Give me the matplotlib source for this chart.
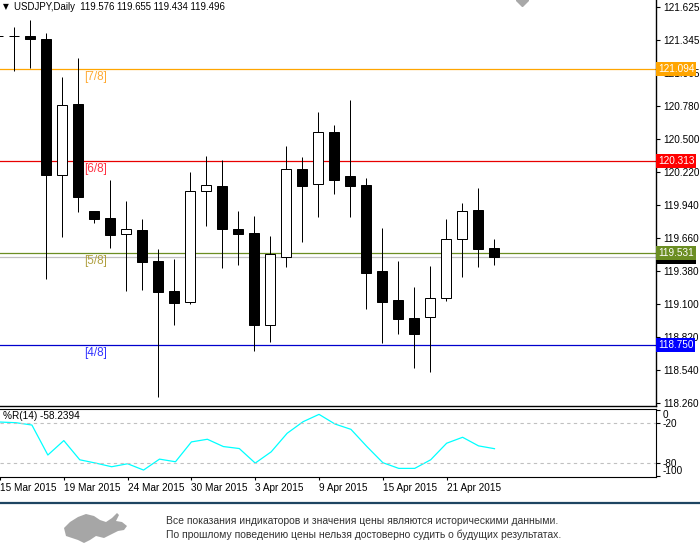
import matplotlib
matplotlib.use("Agg")
import matplotlib.pyplot as plt
from matplotlib.patches import Polygon
from matplotlib.lines import Line2D

plt.rcParams["font.family"] = ["Liberation Sans", "DejaVu Sans"]

symbol = "USDJPY,Daily"
last_ohlc = "119.576 119.655 119.434 119.496"

opens = [121.372, 121.372, 121.376, 121.348, 120.197, 120.798, 119.889, 119.829,
         119.691, 119.725, 119.461, 119.207, 119.118, 120.056, 120.101, 119.736,
         119.702, 118.923, 119.501, 120.243, 120.116, 120.558, 120.186, 120.110,
         119.379, 119.130, 118.977, 118.986, 119.147, 119.648, 119.895, 119.576]
highs = [121.380, 121.455, 121.512, 121.399, 121.025, 121.187, 119.889, 120.152,
         119.974, 119.821, 119.564, 119.481, 120.220, 120.356, 120.322, 119.889,
         119.846, 119.677, 120.441, 120.348, 120.730, 120.620, 120.832, 120.167,
         119.742, 119.464, 119.243, 119.421, 119.821, 119.957, 120.084, 119.655]
lows = [121.360, 121.081, 121.107, 119.309, 119.665, 119.883, 119.790, 119.577,
        119.212, 119.220, 118.311, 118.923, 119.099, 119.764, 119.407, 119.433,
        118.702, 118.778, 119.416, 119.628, 119.840, 120.036, 119.840, 119.059,
        118.770, 118.844, 118.557, 118.523, 119.127, 119.331, 119.416, 119.434]
closes = [121.376, 121.378, 121.348, 120.192, 120.787, 120.010, 119.824, 119.688,
          119.733, 119.458, 119.203, 119.110, 120.056, 120.107, 119.738, 119.696,
          118.923, 119.524, 120.243, 120.104, 120.558, 120.155, 120.104, 119.365,
          119.118, 118.974, 118.846, 119.147, 119.648, 119.886, 119.569, 119.496]

wpr_values = [-18, -19, -22.5, -67.8, -46, -75, -80, -85.5, -81, -90.5, -74, -78,
              -48, -44, -55, -58, -80, -63, -35, -17.5, -6.4, -21, -29, -55,
              -79.4, -88, -88, -75, -50, -41, -54, -58.2394]

date_positions = [0, 4, 8, 12, 16, 20, 24, 28]
date_labels = ["15 Mar 2015", "19 Mar 2015", "24 Mar 2015", "30 Mar 2015",
               "3 Apr 2015", "9 Apr 2015", "15 Apr 2015", "21 Apr 2015"]

price_ticks = [121.625, 121.345, 121.065, 120.780, 120.500, 120.220, 119.940,
               119.660, 119.380, 119.100, 118.820, 118.540, 118.260]

level_values = [121.094, 120.313, 119.531, 118.750]
level_names = ["[7/8]", "[6/8]", "[5/8]", "[4/8]"]
level_colors = ["#FFA500", "#E80000", "#6B8E23", "#0000CD"]
level_text_colors = ["#FFAA33", "#FF3344", "#B0A040", "#3333FF"]
level_box_colors = ["#FFA500", "#FF0000", "#6B8E23", "#0000FF"]
bid_price = 119.496

wpr_levels = [-20, -80]
wpr_ticks = [0, -20, -80, -100]

disclaimer = ["Все показания индикаторов и значения цены являются историческими данными.",
              "По прошлому поведению цены нельзя достоверно судить о будущих результатах."]


def main():
    W, H = 700, 552
    fig = plt.figure(figsize=(7, 5.52), dpi=100)
    ax = fig.add_axes([0, 1 - 406 / H, 656 / W, 406 / H])
    ax2 = fig.add_axes([0, 1 - 477 / H, 656 / W, 68 / H])

    xs = list(range(len(opens)))
    px = 0.72

    # candles
    ax.vlines(xs, lows, highs, color="black", lw=px, zorder=2)
    bottoms = [min(o, c) for o, c in zip(opens, closes)]
    heights = [abs(c - o) for o, c in zip(opens, closes)]
    colors = ["white" if c > o else "black" for o, c in zip(opens, closes)]
    ax.bar(xs, heights, bottom=bottoms, width=0.68, color=colors,
           edgecolor="black", lw=px, zorder=3)

    ax.axhline(bid_price, color="#C0C0C0", lw=0.9, zorder=1)
    for v, name, c, tc in zip(level_values, level_names, level_colors, level_text_colors):
        ax.axhline(v, color=c, lw=0.9, zorder=1)
        ax.annotate(name, (5.375, v), xytext=(0, -1.5), textcoords="offset points",
                    va="top", ha="left", color=tc, fontsize=8.5)

    ax.plot([32.75], [121.682], marker="D", color="#A8A8A8", ms=6, clip_on=True)

    ax.set_xlim(0.125, 41.125)
    ax.set_ylim(118.232, 121.682)
    ax.yaxis.tick_right()
    ax.set_yticks(price_ticks)
    ax.set_yticklabels([f"{t:.3f}" for t in price_ticks])
    ax.tick_params(axis="y", length=3, width=0.8, pad=2, labelsize=7.2)
    ax.set_xticks([])
    for s in ["left", "top"]:
        ax.spines[s].set_visible(False)
    ax.spines["right"].set_linewidth(1.0)
    ax.spines["bottom"].set_linewidth(1.0)

    ytrans = ax.get_yaxis_transform()
    ax.text(1.003, bid_price, f"{bid_price:.3f}", transform=ytrans, color="white",
            fontsize=7.2, va="center", ha="left", clip_on=False,
            bbox=dict(facecolor="black", edgecolor="none", pad=1.3))
    for v, c in zip(level_values, level_box_colors):
        ax.text(1.003, v, f"{v:.3f}", transform=ytrans, color="white",
                fontsize=7.2, va="center", ha="left", clip_on=False,
                bbox=dict(facecolor=c, edgecolor="none", pad=1.3))

    # williams %R
    ax2.plot(xs, wpr_values, color="#00FFFF", lw=0.9)
    for v in wpr_levels:
        ax2.axhline(v, color="#C0C0C0", lw=0.8, ls=(0, (3, 3)))
    ax2.set_xlim(0.125, 41.125)
    ax2.set_ylim(-101, 1.7)
    ax2.yaxis.tick_right()
    ax2.set_yticks(wpr_ticks)
    ax2.set_yticklabels([str(t) for t in wpr_ticks])
    ax2.tick_params(axis="y", length=3, width=0.8, pad=2, labelsize=7.2)
    labs = ax2.get_yticklabels()
    labs[0].set_va("top")
    labs[-1].set_va("bottom")
    ax2.set_xticks(date_positions)
    ax2.set_xticklabels(date_labels)
    ax2.tick_params(axis="x", length=2.5, width=0.8, pad=2, labelsize=7.2)
    for lab in ax2.get_xticklabels():
        lab.set_ha("left")
    ax2.spines["left"].set_visible(False)
    ax2.text(3 / 656, 0.9, "%R(14) " + f"{wpr_values[-1]:.4f}", transform=ax2.transAxes,
             fontsize=7.2, va="center", ha="left")

    # header
    fig.text(3 / W, 1 - 7 / H, "\u25bc", fontsize=5.5, va="center", ha="left",
             family="DejaVu Sans")
    fig.text(14 / W, 1 - 7 / H, f"{symbol}  {last_ohlc}", fontsize=6.9,
             va="center", ha="left")

    # footer
    fig.add_artist(Line2D([0, 1], [1 - 503 / H] * 2, color="#1E4562", lw=1.6,
                          transform=fig.transFigure))
    logo = [(64, 528), (70, 522), (78, 517), (86, 514), (94, 516), (100, 520),
            (106, 522), (112, 518), (117, 513), (119, 515), (116, 521), (122, 522),
            (127, 526), (124, 530), (118, 531), (112, 534), (104, 538), (96, 536),
            (90, 540), (84, 543), (78, 540), (72, 538), (66, 536)]
    fig.add_artist(Polygon([(x / W, 1 - y / H) for x, y in logo], closed=True,
                           facecolor="#A6A6A6", edgecolor="none",
                           transform=fig.transFigure))
    for k, line in enumerate(disclaimer):
        fig.text(166 / W, 1 - (521 + 14 * k) / H, line, fontsize=7.45,
                 color="#333333", va="center", ha="left")

    fig.savefig("out.png", dpi=100)


if __name__ == "__main__":
    main()
